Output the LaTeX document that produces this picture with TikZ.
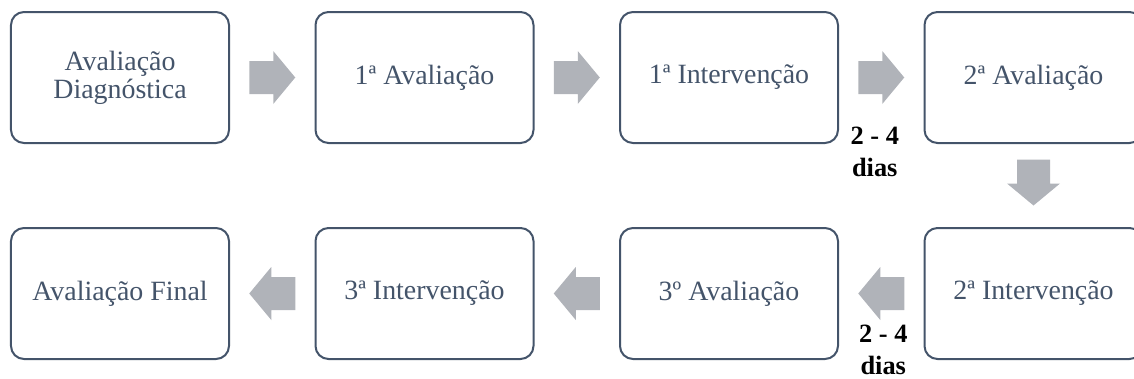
\documentclass[tikz,border=0pt]{standalone}
\usepackage{fontspec}
\setmainfont{Liberation Serif}
\usepackage{xcolor}
\usetikzlibrary{positioning,calc}
\definecolor{slate}{HTML}{44546A}
\definecolor{arrowgray}{HTML}{B0B3B9}

\tikzset{
  stage/.style={draw=slate, line width=2bp, rounded corners=13bp, fill=white,
    minimum width=218bp, minimum height=131bp, inner sep=0pt, outer sep=0pt,
    text=slate, align=center, font=\fontsize{28}{28}\selectfont},
  days/.style={font=\fontsize{26.5}{32}\selectfont\bfseries, align=center, inner sep=0pt},
  blockarrow/.pic={
    \fill[arrowgray] (-23,-16.5) -- (1,-16.5) -- (1,-26.5) -- (23,0)
      -- (1,26.5) -- (1,16.5) -- (-23,16.5) -- cycle;
  }
}

\begin{document}
\begin{tikzpicture}[x=1bp,y=-1bp]
                \useasboundingbox (0,0) rectangle (1134,378);
                % top row, left to right
                \node[stage] (b1) at (120,77.5) {Avaliação\\Diagnóstica};
                \node[stage, right=86.5bp of b1] (b2) {1ª Avaliação};
                \node[stage, right=86.5bp of b2] (b3) {1ª Intervenção};
                \node[stage, right=86.5bp of b3] (b4) {2ª Avaliação};
                % bottom row, right to left
                \node[stage, below=85bp of b4] (c4) {2ª Intervenção};
                \node[stage, left=86.5bp of c4] (c3) {3º Avaliação};
                \node[stage, left=86.5bp of c3] (c2) {3ª Intervenção};
                \node[stage, left=86.5bp of c2] (c1) {Avaliação Final};
                % arrows
                \coordinate (a1) at ($(b1.east)!0.5!(b2.west)$);
                \coordinate (a2) at ($(b2.east)!0.5!(b3.west)$);
                \coordinate (a3) at ($(b3.east)!0.5!(b4.west)$);
                \coordinate (a4) at ($(b4.south)!0.5!(c4.north)$);
                \coordinate (a5) at ($(c4.west)!0.5!(c3.east)$);
                \coordinate (a6) at ($(c3.west)!0.5!(c2.east)$);
                \coordinate (a7) at ($(c2.west)!0.5!(c1.east)$);
                \pic at (a1) {blockarrow};
                \pic at (a2) {blockarrow};
                \pic at (a3) {blockarrow};
                \pic[rotate=-90] at ($(a4)+(0,-3)$) {blockarrow};
                \pic[rotate=180] at (a5) {blockarrow};
                \pic[rotate=180] at (a6) {blockarrow};
                \pic[rotate=180] at (a7) {blockarrow};
                % time labels
                \node[days] (t1) at ($(a3)+(-6.5,74.5)$) {2 - 4\\dias};
                \node[days] (t2) at ($(a5)+(2,56)$) {2 - 4\\dias};
            \end{tikzpicture}
\end{document}
